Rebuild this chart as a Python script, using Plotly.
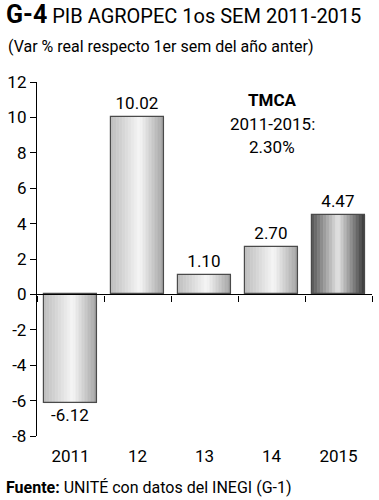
import plotly.graph_objects as go

years = ["2011", "12", "13", "14", "2015"]
values = [-6.12, 10.02, 1.10, 2.70, 4.47]
value_labels = ["-6.12", "10.02", "1.10", "2.70", "4.47"]
highlight = [False, False, False, False, True]
y_ticks = [-8, -6, -4, -2, 0, 2, 4, 6, 8, 10, 12]
y_tick_labels = ["-8", "-6", "-4", "-2", "0", "2", "4", "6", "8", "10", "12"]

FONT = "Roboto, Liberation Sans, sans-serif"
W = 0.78
N = 18
L, R, T, B = 33, 7, 82, 64
PW, PH = 379 - L - R, 500 - T - B


def px(x):
    return (x - L) / PW


def py(y):
    return (500 - B - y) / PH


def interp(stops, t):
    for (t0, v0), (t1, v1) in zip(stops, stops[1:]):
        if t0 <= t <= t1:
            return v0 + (v1 - v0) * (t - t0) / (t1 - t0)
    return stops[-1][1]


LIGHT = [(0, 0.74), (0.55, 0.97), (1, 0.64)]
DARK = [(0, 0.33), (0.5, 0.9), (1, 0.22)]


def shade(t, hl):
    v = int(round(255 * interp(DARK if hl else LIGHT, t)))
    return f"rgb({v},{v},{v})"


fig = go.Figure()
for i in range(N):
    t = (i + 0.5) / N
    cols = [shade(t, h) for h in highlight]
    fig.add_trace(go.Bar(
        x=years, y=values, width=W / N, offset=-W / 2 + i * W / N,
        marker=dict(color=cols, line=dict(color=cols, width=0.6)),
        hoverinfo="skip", showlegend=False))

fig.add_trace(go.Bar(
    x=years, y=values, width=W, offset=-W / 2, xaxis="x2",
    marker=dict(color="rgba(0,0,0,0)", line=dict(color="#4a4a4a", width=1.2)),
    text=value_labels, textposition="outside", cliponaxis=False,
    textfont=dict(family=FONT, size=17, color="black"),
    hoverinfo="skip", showlegend=False))

fig.update_layout(
    width=379, height=500, barmode="overlay", bargap=0,
    margin=dict(l=L, r=R, t=T, b=B),
    paper_bgcolor="white", plot_bgcolor="white",
    font=dict(family=FONT, color="black", size=16),
    xaxis=dict(type="category", categoryarray=years, range=[-0.5, 4.5],
               showline=False, ticks="", showgrid=False, zeroline=False,
               tickfont=dict(size=17), ticklabelstandoff=8),
    xaxis2=dict(type="category", categoryarray=years, range=[-0.5, 4.5],
                overlaying="x", anchor="free", position=0.4,
                showline=True, linecolor="black", linewidth=1.3,
                ticks="outside", tickson="boundaries", ticklen=6,
                tickcolor="black", showticklabels=False, showgrid=False),
    yaxis=dict(range=[-8, 12], tickvals=y_ticks, ticktext=y_tick_labels,
               ticks="outside", ticklen=6,
               tickcolor="black", showline=True, linecolor="black",
               linewidth=1.3, showgrid=False, zeroline=False,
               tickfont=dict(size=17)),
    annotations=[
        dict(x=px(0), y=py(15), xref="paper", yref="paper", xanchor="left",
             yanchor="middle", showarrow=False,
             text="<b><span style='font-size:25px'>G-4</span></b> PIB AGROPEC 1os SEM 2011-2015",
             font=dict(family=FONT, size=20)),
        dict(x=px(2), y=py(46), xref="paper", yref="paper", xanchor="left",
             yanchor="middle", showarrow=False,
             text="(Var % real respecto 1er sem del año anter)",
             font=dict(family=FONT, size=16)),
        dict(x=px(271), y=py(100), xref="paper", yref="paper",
             xanchor="center", yanchor="middle", showarrow=False,
             text="<b>TMCA</b>", font=dict(family=FONT, size=17)),
        dict(x=px(271), y=py(124), xref="paper", yref="paper",
             xanchor="center", yanchor="middle", showarrow=False,
             text="2011-2015:", font=dict(family=FONT, size=17)),
        dict(x=px(271), y=py(147), xref="paper", yref="paper",
             xanchor="center", yanchor="middle", showarrow=False,
             text="2.30%", font=dict(family=FONT, size=17)),
        dict(x=px(0), y=py(487), xref="paper", yref="paper", xanchor="left",
             yanchor="middle", showarrow=False,
             text="<b>Fuente:</b> UNITÉ con datos del INEGI (G-1)",
             font=dict(family=FONT, size=16)),
    ],
)

fig.write_html("out.html", config={"displayModeBar": False},
               post_script="document.body.style.margin='0';")
